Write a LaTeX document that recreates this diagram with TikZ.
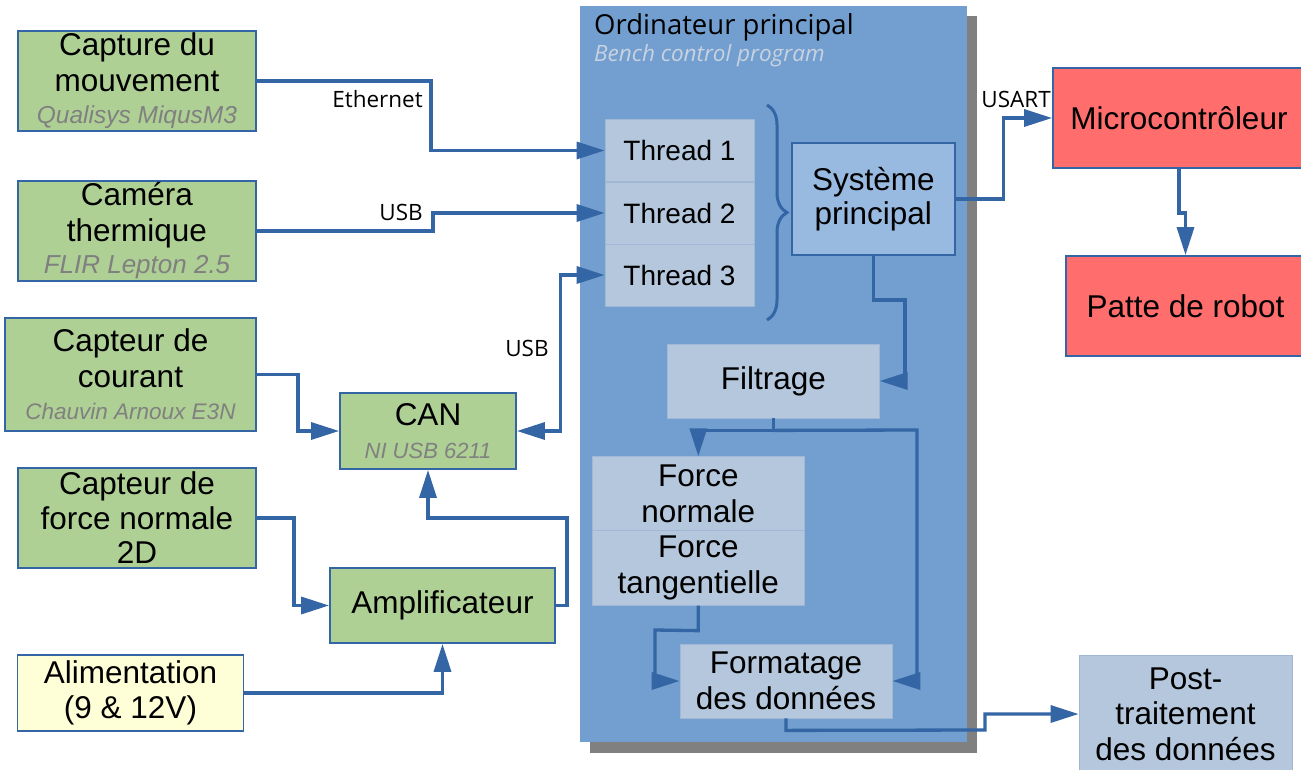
\documentclass[tikz,border=0pt]{standalone}
\usepackage{fontspec}
\setmainfont{Liberation Sans}
\newfontfamily\osans{Open Sans}
\usetikzlibrary{arrows.meta,decorations.pathreplacing,calc}
\definecolor{wireblue}{HTML}{3465A4}
\definecolor{greenfill}{RGB}{175,208,149}
\definecolor{redfill}{HTML}{FF6D6D}
\definecolor{yellowfill}{HTML}{FFFFD7}
\definecolor{lightbluefill}{RGB}{180,199,220}
\definecolor{lightblueline}{RGB}{160,184,214}
\definecolor{sysfill}{RGB}{152,186,225}
\definecolor{bigfill}{HTML}{729FCF}
\definecolor{shadowgray}{RGB}{128,128,128}
\definecolor{subgray}{RGB}{128,128,128}
\definecolor{benchgray}{RGB}{200,210,224}
\newcommand\fsmain{\fontsize{31.5}{35.5}\selectfont}
\newcommand\fsthread{\fontsize{28}{32}\selectfont}
\newcommand\subtxt[2]{{\fontsize{#1}{#1}\selectfont\itshape\color{subgray}#2}}
\begin{document}
\begin{tikzpicture}[x=1pt,y=-1pt,
  box/.style={draw=wireblue, line width=1.8pt, inner sep=0pt, align=center, font=\fsmain},
  greenbox/.style={box, fill=greenfill},
  redbox/.style={box, fill=redfill},
  yellowbox/.style={box, fill=yellowfill},
  lbox/.style={draw=lightblueline, line width=0.8pt, fill=lightbluefill, inner sep=0pt, align=center, font=\fsmain},
  sysbox/.style={box, fill=sysfill},
  wire/.style={draw=wireblue, line width=3.3pt},
  arr/.style={wire, -{Triangle[length=28pt,width=17pt]}},
  darr/.style={wire, {Triangle[length=28pt,width=17pt]}-{Triangle[length=28pt,width=17pt]}},
  wlabel/.style={font=\osans\fontsize{22.5}{26}\selectfont, inner sep=0pt},
]
\useasboundingbox (0,0) rectangle (1301,769);
\fill[white] (0,0) rectangle (1301,769);

% main computer
\fill[shadowgray] (590,16) rectangle (977,752.5);
\fill[bigfill] (580,6) rectangle (967,742);
\node[anchor=west, inner sep=0pt, font=\osans\fontsize{27.5}{31}\selectfont] (ordi) at (594,27) {Ordinateur principal};
\node[anchor=west, inner sep=0pt, font=\osans\itshape\fontsize{22.5}{26}\selectfont, text=benchgray] (bench) at (594,56) {Bench control program};

% left boxes
\node[greenbox, minimum width=238pt, minimum height=100pt] (cap) at (137,81)
  {Capture du\\mouvement\\[-3pt]\subtxt{24.5}{Qualisys MiqusM3}};
\node[greenbox, minimum width=238pt, minimum height=100pt] (cam) at (137,231)
  {Caméra\\thermique\\[-3pt]\subtxt{26}{FLIR Lepton 2.5}};
\node[greenbox, minimum width=251pt, minimum height=113pt] (cour) at (130.5,374.5)
  {Capteur de\\courant\\[-3pt]\subtxt{22.5}{Chauvin Arnoux E3N}};
\node[greenbox, minimum width=238pt, minimum height=100pt] (force) at (137,518)
  {Capteur de\\[-1pt]force normale\\[-1pt]2D};
\node[greenbox, minimum width=176pt, minimum height=76pt] (can) at (428,431)
  {CAN\\[-2pt]\subtxt{22}{NI USB 6211}};
\node[greenbox, minimum width=225pt, minimum height=75pt] (amp) at (442.5,605.5) {Amplificateur};
\node[yellowbox, minimum width=226pt, minimum height=76pt] (alim) at (130.5,693)
  {Alimentation\\(9 \& 12V)};

% right boxes
\node[redbox, minimum width=252pt, minimum height=100pt] (micro) at (1179,118) {Microcontrôleur};
\node[redbox, minimum width=239pt, minimum height=100pt] (patte) at (1185.5,306) {Patte de robot};
\node[lbox, minimum width=213pt, minimum height=118pt] (post) at (1185.5,714)
  {Post-\\traitement\\des données};

% inside computer
\node[lbox, minimum width=149pt, minimum height=62.5pt, font=\fsthread] (t1) at (679.5,150.5) {Thread 1};
\node[lbox, minimum width=149pt, minimum height=62pt, font=\fsthread] (t2) at (679.5,213) {Thread 2};
\node[lbox, minimum width=149pt, minimum height=62pt, font=\fsthread] (t3) at (679.5,275) {Thread 3};
\node[sysbox, minimum width=163pt, minimum height=112pt] (sys) at (873.3,199) {Système\\[-1pt]principal};
\node[lbox, minimum width=211.5pt, minimum height=74pt] (filt) at (773.5,381) {Filtrage};
\node[lbox, minimum width=211.3pt, minimum height=74pt] (fn) at (698.3,493.7) {Force\\normale};
\node[lbox, minimum width=211.3pt, minimum height=74.5pt] (ft) at (698.3,568) {Force\\tangentielle};
\node[lbox, minimum width=212pt, minimum height=74pt] (form) at (786,681) {Formatage\\des données};

% brace
\draw[wireblue, line width=3pt, decorate, decoration={brace, amplitude=20pt}] (767,105) -- (767,320);

% connectors
\draw[arr] (cap.east) -- ++(174,0) |- (t1.west);
\node[wlabel, anchor=east] (leth) at (423,99) {Ethernet};
\draw[arr] (cam.east) -- ++(176,0) |- (t2.west);
\node[wlabel, anchor=east] (lusb1) at (423,212) {USB};
\draw[darr] (t3.west) -- ++(-44,0) |- (can.east);
\node[wlabel] (lusb2) at (527,348) {USB};
\draw[arr] (cour.east) -- ++(41,0) |- (can.west);
\draw[arr] (force.east) -- ++(37,0) |- (amp.west);
\draw[arr] (amp.east) -- ++(11,0) |- (497,518) -| (can.south);
\draw[arr] (alim.east) -| (amp.south);

\draw[arr] (sys.south) |- (905,300) |- (filt.east);
\coordinate (split) at ($(filt.south)+(0,12)$);
\draw[wire] (filt.south) -- (split);
\draw[arr] (split) -| (fn.north);
\draw[arr] (split) -- (917,430) |- (form.east);
\draw[arr] (ft.south) -- ++(0,25) -- (655,630) |- (form.west);
\draw[arr] (form.south) -- ++(0,12) -- (985,730) |- (post.west);

\draw[arr] (sys.east) -- ++(48,0) |- (micro.west);
\node[wlabel, anchor=east] (lusart) at (1051,99) {USART};
\draw[arr] (micro.south) -- ++(0,44) -| (patte.north);
\end{tikzpicture}
\end{document}
